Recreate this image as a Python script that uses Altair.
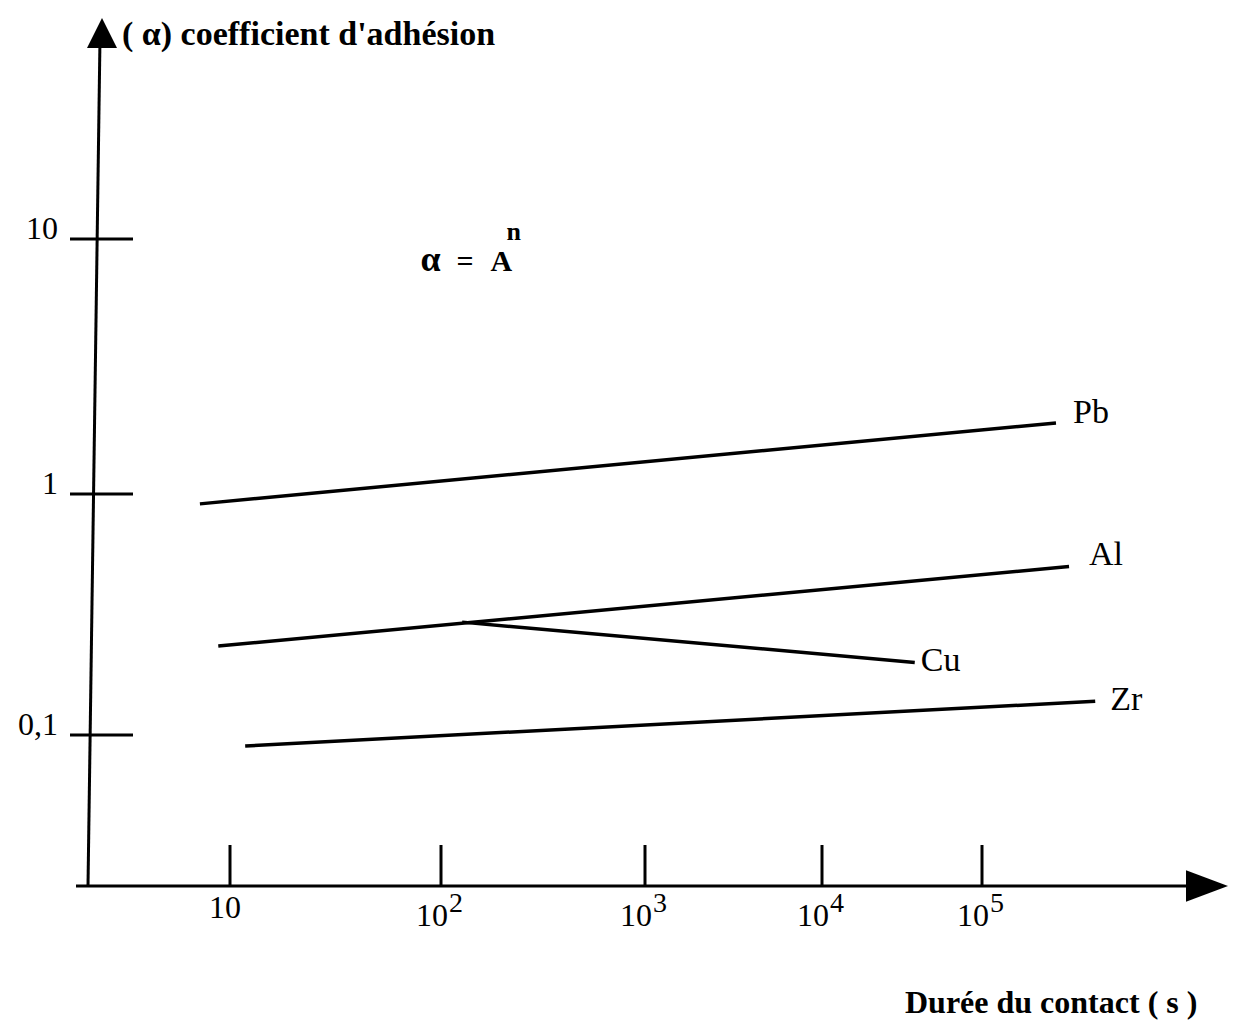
import altair as alt
import pandas as pd

# ---- data ----
series = ["Pb", "Al", "Cu", "Zr"]
x_start = [7.2, 8.8, 127, 11.8]          # contact duration (s)
x_end = [2.9e5, 3.5e5, 3.8e4, 5.1e5]
y_start = [0.91, 0.234, 0.294, 0.090]    # adhesion coefficient
y_end = [1.9, 0.50, 0.20, 0.138]

x_ticks = [10, 100, 1000, 10000, 100000]
x_tick_base = ["10", "10", "10", "10", "10"]
x_tick_exp = ["", "2", "3", "4", "5"]
y_ticks = [0.1, 1, 10]
y_tick_labels = ["0,1", "1", "10"]

y_title = ["( α) coefficient d'adhésion"]
x_title = ["Durée du contact ( s )"]
formula_pos_x = [80]
formula_pos_y = [7.5]

FONT = "Liberation Serif"

# scales (hand-drawn decades are not evenly spaced -> piecewise log scale)
xs = alt.Scale(type="log", domain=x_ticks, range=[222, 433, 637, 814, 974], nice=False)
ys = alt.Scale(type="log", domain=y_ticks, range=[727, 486, 231], nice=False)

rows = []
for s, x0, x1, y0, y1 in zip(series, x_start, x_end, y_start, y_end):
    rows.append({"series": s, "t": x0, "a": y0, "ord": 0})
    rows.append({"series": s, "t": x1, "a": y1, "ord": 1})
lines_df = pd.DataFrame(rows)
ends_df = pd.DataFrame({"series": series, "t": x_end, "a": y_end})
ytick_df = pd.DataFrame({"v": y_ticks, "label": y_tick_labels})
xtick_df = pd.DataFrame({"v": x_ticks, "base": x_tick_base, "exp": x_tick_exp})
one = pd.DataFrame({"k": [0]})


def X():
    return alt.X("t:Q", scale=xs, axis=None)


def Y():
    return alt.Y("a:Q", scale=ys, axis=None)


layers = []

# axes lines and arrows
layers.append(alt.Chart(one).mark_rule(color="black", strokeWidth=3).encode(
    x=alt.value(80), y=alt.value(878), x2=alt.value(92), y2=alt.value(30)))
layers.append(alt.Chart(one).mark_rule(color="black", strokeWidth=3).encode(
    x=alt.value(68), x2=alt.value(1185), y=alt.value(878)))
layers.append(alt.Chart(one).mark_point(shape="M0,-1L1,1L-1,1Z", filled=True, color="black",
                                        opacity=1, size=900, strokeWidth=0).encode(
    x=alt.value(94), y=alt.value(25)))
layers.append(alt.Chart(one).mark_point(shape="M1,0L-1,-0.75L-1,0.75Z", filled=True, color="black",
                                        opacity=1, size=1764, strokeWidth=0).encode(
    x=alt.value(1199), y=alt.value(878)))

# y ticks crossing the axis + labels
layers.append(alt.Chart(ytick_df).mark_rule(color="black", strokeWidth=3).encode(
    y=alt.Y("v:Q", scale=ys, axis=None), x=alt.value(62), x2=alt.value(125)))
layers.append(alt.Chart(ytick_df).mark_text(align="right", baseline="alphabetic", font=FONT,
                                            fontSize=32, color="black").encode(
    y=alt.Y("v:Q", scale=ys, axis=None), x=alt.value(50), text="label:N"))

# x ticks + labels
layers.append(alt.Chart(xtick_df).mark_rule(color="black", strokeWidth=3).encode(
    x=alt.X("v:Q", scale=xs, axis=None), y=alt.value(837), y2=alt.value(878)))
layers.append(alt.Chart(xtick_df).transform_filter(alt.datum.exp == "").mark_text(
    align="center", baseline="alphabetic", dx=-5, font=FONT, fontSize=32, color="black").encode(
    x=alt.X("v:Q", scale=xs, axis=None), y=alt.value(910), text="base:N"))
layers.append(alt.Chart(xtick_df).transform_filter(alt.datum.exp != "").mark_text(
    align="right", baseline="alphabetic", dx=7, font=FONT, fontSize=32, color="black").encode(
    x=alt.X("v:Q", scale=xs, axis=None), y=alt.value(918), text="base:N"))
layers.append(alt.Chart(xtick_df).transform_filter(alt.datum.exp != "").mark_text(
    align="left", baseline="alphabetic", dx=8, dy=-14, font=FONT, fontSize=28, color="black").encode(
    x=alt.X("v:Q", scale=xs, axis=None), y=alt.value(918), text="exp:N"))

# data lines
layers.append(alt.Chart(lines_df).mark_line(color="black", strokeWidth=3.5).encode(
    x=X(), y=Y(), detail="series:N", order="ord:Q"))

# line labels
label_offsets = {"Pb": (17, -10), "Al": (20, -12), "Cu": (6, -1), "Zr": (15, -1)}
for s in series:
    dx, dy = label_offsets[s]
    layers.append(alt.Chart(ends_df).transform_filter(alt.datum.series == s).mark_text(
        align="left", baseline="middle", dx=dx, dy=dy, font=FONT, fontSize=34, color="black").encode(
        x=X(), y=Y(), text="series:N"))

# formula  alpha = A^n
formula_df = pd.DataFrame({"t": formula_pos_x, "a": formula_pos_y})
for txt, dx, dy, fs in [("α", 0, 0, 36), ("=", 36, 0, 30), ("A", 70, 0, 30), ("n", 86, -31, 26)]:
    layers.append(alt.Chart(formula_df).mark_text(
        align="left", baseline="alphabetic", dx=dx, dy=dy, font=FONT, fontSize=fs,
        fontWeight="bold", color="black").encode(x=X(), y=Y(), text=alt.value(txt)))

# axis titles
layers.append(alt.Chart(pd.DataFrame({"txt": y_title})).mark_text(
    align="left", baseline="alphabetic", font=FONT, fontSize=34, fontWeight="bold", color="black").encode(
    x=alt.value(114), y=alt.value(37), text="txt:N"))
layers.append(alt.Chart(pd.DataFrame({"txt": x_title})).mark_text(
    align="left", baseline="alphabetic", font=FONT, fontSize=32, fontWeight="bold", color="black").encode(
    x=alt.value(897), y=alt.value(1005), text="txt:N"))

chart = alt.layer(*layers).properties(
    width=1224, height=1015, autosize=alt.AutoSizeParams(type="none"), padding=0,
    background="white"
).configure_view(stroke=None)

chart.save("out.html", embed_options={"renderer": "svg", "actions": False})
